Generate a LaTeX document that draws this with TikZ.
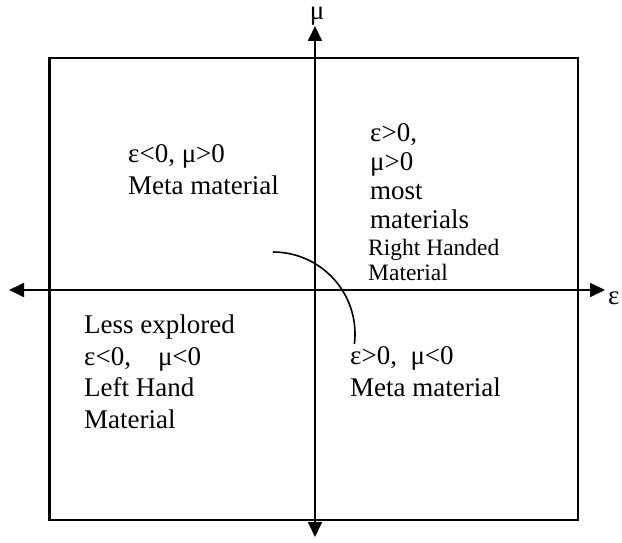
\documentclass[tikz,border=0pt]{standalone}
\usepackage{fontspec}
\setmainfont{Liberation Serif}
\usetikzlibrary{arrows.meta}

\begin{document}
\begin{tikzpicture}[
  x=1pt, y=-1pt,
  font=\fontsize{27}{31.5}\selectfont,
  frame/.style={draw, line width=2.2pt},
  axis/.style={{Triangle[length=15pt,width=14pt]}-{Triangle[length=15pt,width=14pt]}, line width=1.8pt},
  lbl/.style={anchor=base west, align=left, inner sep=0pt},
  small/.style={lbl, font=\fontsize{23.5}{25}\selectfont},
]
\useasboundingbox (0,0) rectangle (622,543);
% frame and axes
\coordinate (tl) at (49.5,58);
\coordinate (br) at (578,520);
\draw[frame] (tl) rectangle (br);
\coordinate (west) at (9,290);
\coordinate (east) at (605,290);
\coordinate (north) at (315,26);
\coordinate (south) at (315,537);
\draw[axis] (west) -- (east);
\draw[axis] (south) -- (north);
\node[anchor=base] (mu) at (317,20) {μ};
\node[anchor=base west, inner sep=0pt] (eps) at (608,304) {ε};
% arc
\coordinate (arcstart) at (273,252);
\draw[line width=1.6pt] (arcstart) arc[start angle=90, end angle=-7, radius=82pt];
% quadrant texts (anchored at the last baseline)
\node[lbl] (q2) at (128,194) {ε<0, μ>0\\Meta material};
\node[lbl, font=\fontsize{27}{29}\selectfont] (q1) at (370,228) {ε>0,\\μ>0\\most\\materials};
\node[small] (rh) at (368,280) {Right Handed\\Material};
\node[lbl] (q3) at (84,428) {Less explored\\ε<0,\quad μ<0\\Left Hand\\Material};
\node[lbl] (q4) at (350,396) {ε>0,\ \ μ<0\\Meta material};
\end{tikzpicture}
\end{document}
